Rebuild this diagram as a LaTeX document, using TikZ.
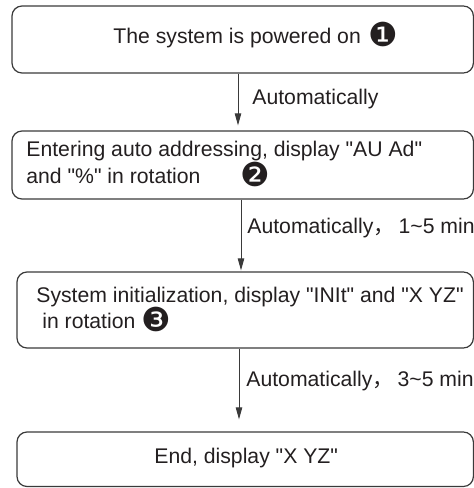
\documentclass[tikz,border=0pt]{standalone}
\usepackage{fontspec}
\setmainfont{Liberation Sans}[Ligatures=TeXOff]
\newfontfamily\dingfont{DejaVu Sans}
\newfontfamily\cjkfont{Noto Sans CJK SC}
\usetikzlibrary{arrows.meta}
\definecolor{fline}{HTML}{3A3A3A}
\definecolor{ftext}{HTML}{231F20}
\newcommand{\stepno}[1]{\raisebox{-1.6pt}{\dingfont\fontsize{16.5}{16.5}\selectfont#1}}
\tikzset{
  >={Triangle[length=6pt, width=3.2pt]},
  fbox/.style={draw=fline, line width=0.6pt, rounded corners=5pt, inner sep=0pt},
  ftxt/.style={text=ftext, inner sep=0pt, align=left,
               font=\fontsize{10.6}{13.5}\selectfont},
  flbl/.style={text=ftext, inner sep=0pt, anchor=base west,
               font=\fontsize{10.6}{13}\selectfont},
  fflow/.style={->, draw=fline, line width=0.5pt},
}

\begin{document}
\begin{tikzpicture}[x=0.5pt, y=-0.5pt]
  \useasboundingbox (0,0) rectangle (474,488);

  % boxes
  \node[fbox, minimum width=230.7pt, minimum height=33.5pt]  (b1) at (242.7,39.5)  {};
  \node[fbox, minimum width=230.7pt, minimum height=34pt]    (b2) at (242.7,165)   {};
  \node[fbox, minimum width=228.2pt, minimum height=38pt]    (b3) at (245.2,310)   {};
  \node[fbox, minimum width=228.2pt, minimum height=27.25pt] (b4) at (245.2,459.25) {};

  % box texts (base = last line)
  \node[ftxt, anchor=base west] (t1) at (113,43)
        {The system is powered on\hspace{4pt}\stepno{❶}};
  \node[ftxt, anchor=base west] (t2) at (26,183)
        {Entering auto addressing, display "AU Ad"\\
         and "\%" in rotation\hspace{20pt}\stepno{❷}};
  \node[ftxt, anchor=base west, font=\fontsize{10.6}{13}\selectfont] (t3) at (36,328)
        {System initialization, display "INIt" and "X YZ"\\
         \hspace*{0.28em}in rotation \stepno{❸}};
  \node[ftxt, anchor=base west] (t4) at (154,463) {End, display "X YZ"};

  % arrows
  \draw[fflow, shorten >=2.5pt] ([xshift=-2.35pt]b1.south) -- ([xshift=-2.35pt]b1.south |- b2.north);
  \draw[fflow, shorten >=0.5pt] ([xshift=-0.85pt]b2.south) -- ([xshift=-0.85pt]b2.south |- b3.north);
  \draw[fflow, shorten >=6pt]   ([xshift=-3.1pt]b3.south)  -- ([xshift=-3.1pt]b3.south |- b4.north);

  % arrow labels
  \node[flbl] (l1) at (252,104) {Automatically};
  \node[flbl] (l2) at (247,233) {Automatically{\cjkfont，}\hspace{2pt}1\textasciitilde5 min};
  \node[flbl] (l3) at (246,386) {Automatically{\cjkfont，}\hspace{2pt}3\textasciitilde5 min};

\end{tikzpicture}
\end{document}
